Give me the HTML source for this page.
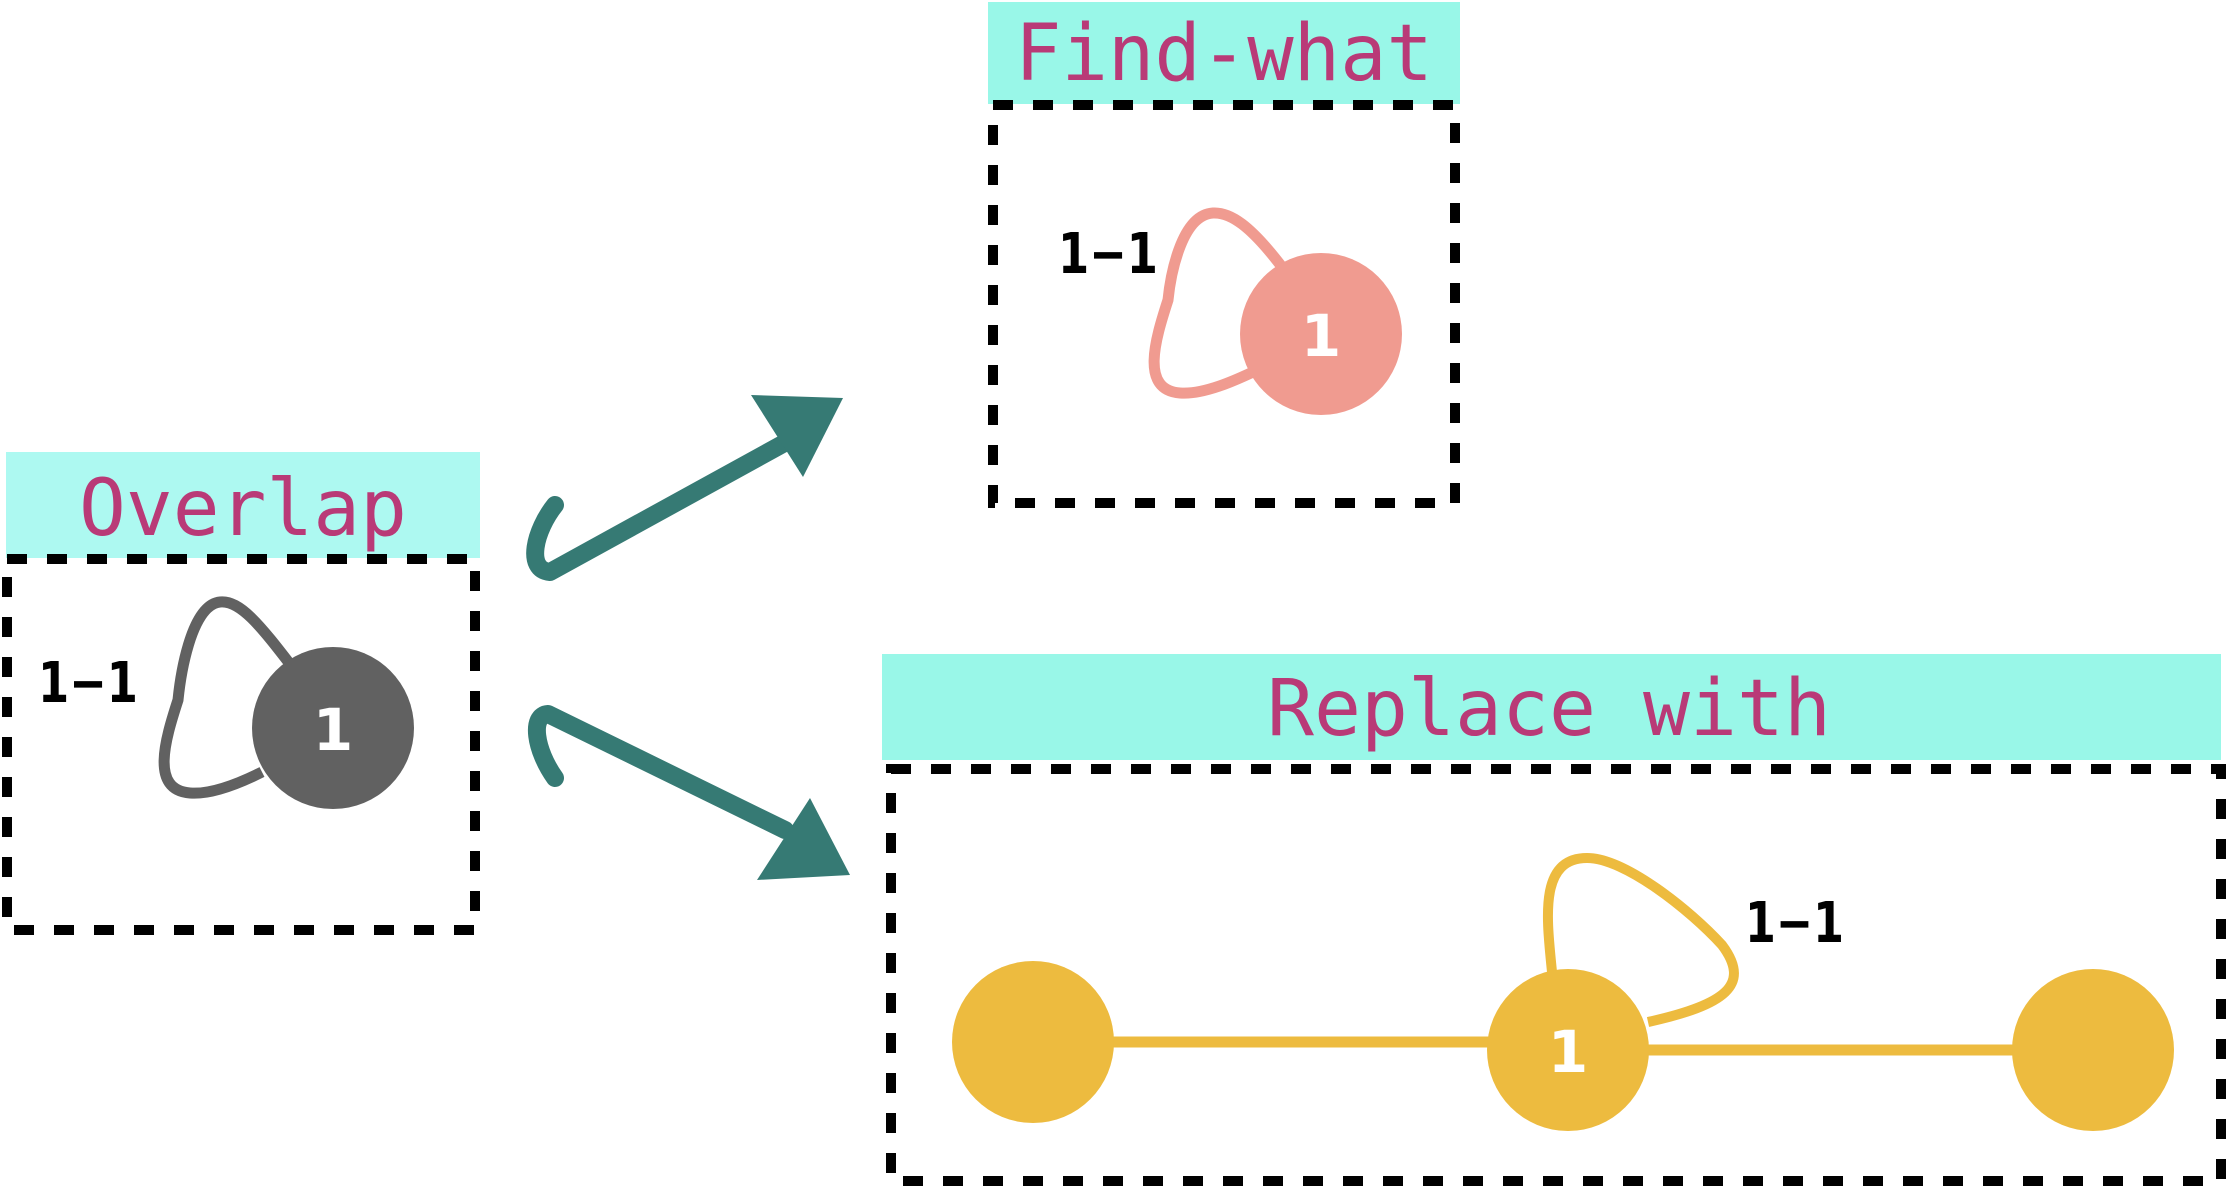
<!DOCTYPE html>
<html><head><meta charset="utf-8"><style>
html,body{margin:0;padding:0;background:#fff;}
svg{display:block;}
</style></head><body>
<svg width="2228" height="1188" viewBox="0 0 2228 1188" xmlns="http://www.w3.org/2000/svg">
<g font-family="DejaVu Sans Mono, Liberation Mono, monospace" font-size="78" fill="#b93a77">
<rect x="6" y="452" width="474" height="106" fill="#adf9f1"/>
<text x="243" y="535" text-anchor="middle" textLength="328" lengthAdjust="spacingAndGlyphs">Overlap</text>
<rect x="988" y="2" width="472" height="102" fill="#99f7e8"/>
<text x="1224" y="80" text-anchor="middle" textLength="418" lengthAdjust="spacingAndGlyphs">Find-what</text>
<rect x="882" y="654" width="1339" height="106" fill="#99f7e8"/>
<text x="1549" y="735" text-anchor="middle" textLength="564" lengthAdjust="spacingAndGlyphs">Replace with</text>
</g>
<g fill="none" stroke="#000" stroke-width="10" stroke-dasharray="20 20">
<rect x="7" y="559" width="468" height="371"/>
<rect x="993" y="105" width="462" height="398"/>
<rect x="891" y="769" width="1330" height="412"/>
</g>
<!-- overlap -->
<path d="M293 668 C260 625 240 600 220 602 C190 605 180 680 178 700 C165 740 150 790 190 793 C215 795 250 778 262 772" fill="none" stroke="#616161" stroke-width="11"/>
<circle cx="333" cy="728" r="81" fill="#616161"/>
<!-- find -->
<path d="M1282 267 C1250 225 1230 212 1213 213 C1180 215 1170 280 1168 300 C1155 340 1140 390 1180 393 C1205 395 1240 378 1253 372" fill="none" stroke="#f09b90" stroke-width="11"/>
<circle cx="1321" cy="334" r="81" fill="#f09b90"/>
<!-- replace -->
<line x1="1033" y1="1042" x2="1568" y2="1042" stroke="#edbb3f" stroke-width="11"/>
<line x1="1568" y1="1050" x2="2093" y2="1050" stroke="#edbb3f" stroke-width="11"/>
<path d="M1552 972 C1547 920 1538 858 1587 858 C1625 858 1690 910 1722 945 C1752 985 1725 1005 1648 1022" fill="none" stroke="#edbb3f" stroke-width="10"/>
<circle cx="1033" cy="1042" r="81" fill="#edbb3f"/>
<circle cx="1568" cy="1050" r="81" fill="#edbb3f"/>
<circle cx="2093" cy="1050" r="81" fill="#edbb3f"/>
<!-- labels -->
<g font-family="DejaVu Sans, sans-serif" font-weight="bold" font-size="56" fill="#000">
<text x="38" y="702" textLength="100" lengthAdjust="spacingAndGlyphs">1−1</text>
<text x="1058" y="273" textLength="100" lengthAdjust="spacingAndGlyphs">1−1</text>
<text x="1745" y="942" textLength="99" lengthAdjust="spacingAndGlyphs">1−1</text>
</g>
<g font-family="DejaVu Sans, sans-serif" font-weight="bold" font-size="58" fill="#fff" text-anchor="middle">
<text x="333" y="750">1</text>
<text x="1321" y="356">1</text>
<text x="1568" y="1072">1</text>
</g>
<!-- arrows -->
<g fill="none" stroke="#367a74" stroke-width="18" stroke-linecap="round" stroke-linejoin="round">
<path d="M555 505 C535 530 525 570 550 572 L790 440"/>
<path d="M555 778 C535 750 530 715 548 714 L785 830"/>
</g>
<polygon points="751,395 843,398 803,477" fill="#367a74"/>
<polygon points="810,798 850,875 757,880" fill="#367a74"/>
</svg>
</body></html>
